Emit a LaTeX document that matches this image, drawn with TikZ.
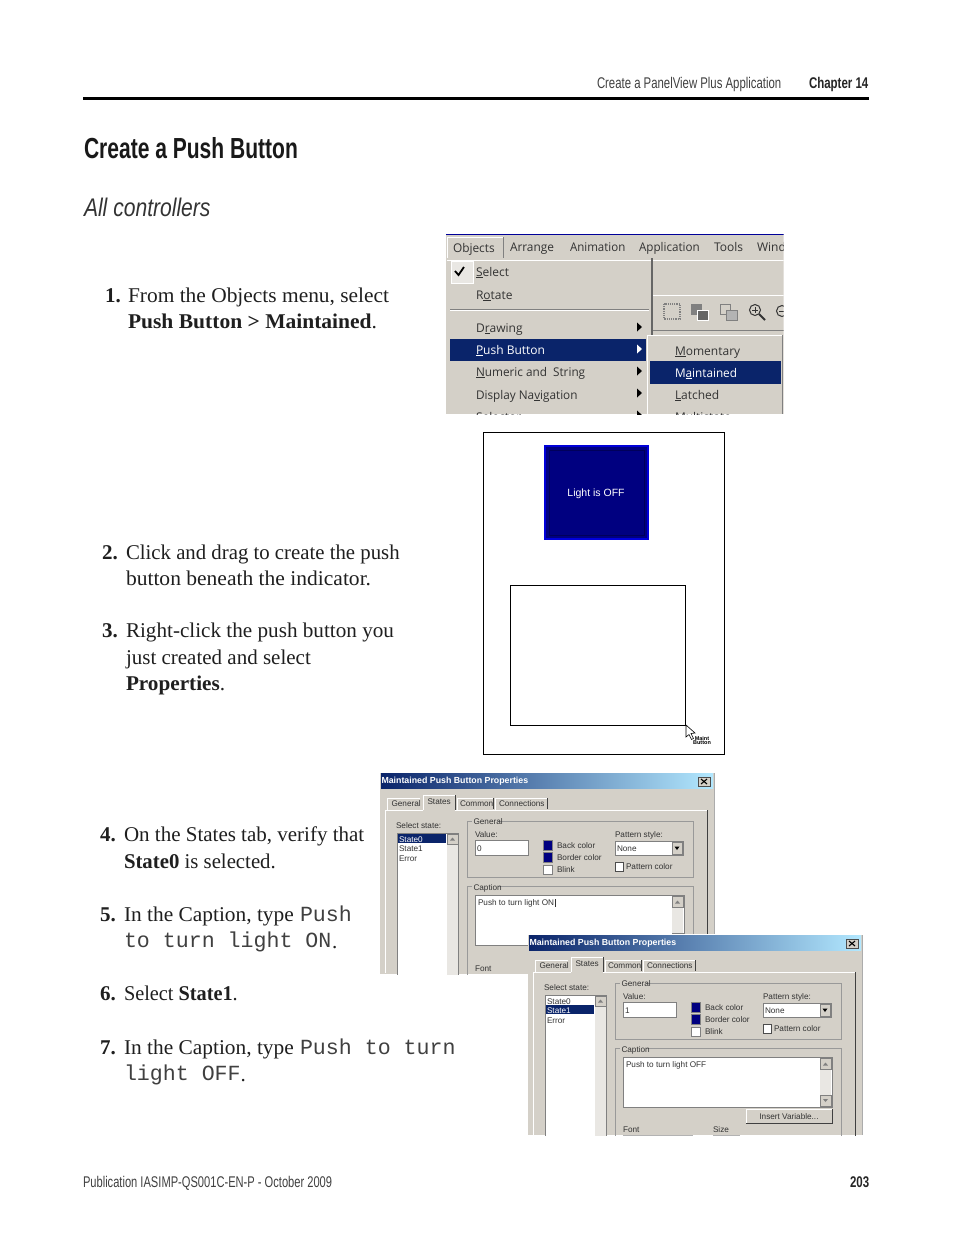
\documentclass[tikz,border=0pt]{standalone}
\usepackage{fontspec}
\setmainfont{Liberation Serif}
\newfontfamily\cond[FakeStretch=0.78]{Liberation Sans}
\newfontfamily\mnu{Open Sans}
\newfontfamily\dlg{Liberation Sans}
\newfontfamily\mon{Liberation Mono}
\definecolor{wing}{HTML}{D4D0C8}
\definecolor{sel}{HTML}{0A246A}
\definecolor{swat}{HTML}{000080}
\definecolor{dk}{HTML}{404040}
\definecolor{md}{HTML}{808080}
\definecolor{dith}{HTML}{E9E7E3}
\definecolor{txt}{HTML}{333333}
\tikzset{
 t/.style={anchor=west,inner sep=0pt,outer sep=0pt},
 body/.style={t,font=\fontsize{21}{21}\selectfont,text=black!88,text height=14pt,text depth=5pt,yshift=-2.5pt},
 mono/.style={t,font=\mon\fontsize{21.6}{21.6}\selectfont,text=black!75,text height=12pt,text depth=4pt,yshift=-2pt},
 mi/.style={t,font=\mnu\fontsize{12}{12}\selectfont,text=black!80,text height=9pt,text depth=3pt,yshift=-1pt},
 di/.style={t,font=\dlg\fontsize{8.2}{8.2}\selectfont,text=txt,text height=6.5pt,text depth=2pt,yshift=-.75pt},
 sunk/.style={fill=white,draw=md,line width=.8pt},
 btn/.style={fill=wing,draw=md,line width=.7pt},
 grp/.style={draw=md!80,line width=.8pt},
}
\newcommand{\U}[1]{\underline{#1}}
\newcommand{\sx}[2]{\scalebox{#1}[1]{#2}}
\newcommand{\dialogbox}[9]{%
\begin{scope}[shift={(#1,#2)}]
\begin{scope}
\clip (-1,-1) rectangle (334.5,#3);
\fill[wing] (0,0) rectangle (334,#3);
\draw[white,line width=.8pt] (0,-.5) -- (334,-.5);
\draw[md,line width=.8pt] (334,0) -- (334,#3);
\shade[left color=sel,right color=blue!30!cyan!30] (1,0) rectangle (333,15);
\node[t,font=\dlg\bfseries\fontsize{8.8}{8.8}\selectfont,text=white,text height=6.5pt,text depth=2pt] at (1.5,8.5) {Maintained Push Button Properties};
\draw[fill=wing,draw=black!70,line width=.6pt] (318,4) rectangle (330,13);
\draw[line width=1.1pt] (321,6) -- (327,11) (327,6) -- (321,11);
% tabs
\draw[white,line width=.8pt] (5,200) -- (5,37) -- (43,37) (75,37) -- (327,37);
\draw[dk,line width=.9pt] (327,37) -- (327,220);
\draw[white,line width=.8pt] (7,37) -- (7,25) -- (40,25);
\draw[white,line width=.8pt] (43,37) -- (43,22) -- (75,22);
\draw[dk,line width=.8pt] (75,22) -- (75,37);
\draw[white,line width=.8pt] (77,37) -- (77,25) -- (113,25);
\draw[dk,line width=.8pt] (113,25) -- (113,36);
\draw[white,line width=.8pt] (115,37) -- (115,25) -- (167,25);
\draw[dk,line width=.8pt] (167,25) -- (167,36);
\node[di] at (11.5,30.5) {General};
\node[di] at (47.5,28) {States};
\node[di] at (80,30.5) {Common};
\node[di] at (119,30.5) {Connections};
% state list
\node[di] at (16,52) {Select state:};
\draw[sunk] (17,60) rectangle (78,240);
\fill[dith] (67,61) rectangle (78,240);
\fill[sel] (18,#6) rectangle (66,#6+9);
\draw[btn] (67,61) rectangle (78,71);
\fill[md] (70,67.5) -- (75,67.5) -- (72.5,64.5) -- cycle;
\node[di,text=#7] at (19,66) {State0};
\node[di,text=#8] at (19,75.5) {State1};
\node[di] at (19,85) {Error};
% general group
\draw[grp] (87,48) rectangle (313,104);
\fill[wing] (92,44) rectangle (118,52);
\node[di] at (93.5,48) {General};
\node[di] at (95,61) {Value:};
\draw[sunk] (95,67) rectangle (148,82);
\node[di] at (97,75) {#4};
\draw[fill=swat,draw=md,line width=.5pt] (163,67) rectangle (172,77);
\draw[fill=swat,draw=md,line width=.5pt] (163,79) rectangle (172,89);
\draw[fill=white,draw=md,line width=.5pt] (163,92) rectangle (172,101);
\node[di] at (177,72) {Back color};
\node[di] at (177,84) {Border color};
\node[di] at (177,96.5) {Blink};
\node[di] at (235,61) {Pattern style:};
\draw[sunk] (235,68) rectangle (303,82);
\node[di] at (237,75) {None};
\draw[btn] (292,69) rectangle (302,81);
\fill[black] (294.5,73.5) -- (299.5,73.5) -- (297,77) -- cycle;
\draw[fill=white,draw=black!70,line width=.6pt] (235,89) rectangle (243,98);
\node[di] at (246,93.5) {Pattern color};
% caption group
\draw[grp] (87,113) rectangle (313,260);
\fill[wing] (92,109) rectangle (118,117);
\node[di] at (93.5,114) {Caption};
\draw[sunk] (95,122) rectangle (304,172);
\node[di] at (98,129) {#5};
\fill[dith] (292,123) rectangle (303,171);
\draw[btn] (292,123) rectangle (303,134);
\fill[md] (295,130.5) -- (300,130.5) -- (297.5,127.5) -- cycle;
\draw[btn] (292,160) rectangle (303,171);
\fill[md] (295,164) -- (300,164) -- (297.5,167) -- cycle;
#9
\end{scope}
\end{scope}}
\begin{document}
\begin{tikzpicture}[x=1pt,y=-1pt]
\useasboundingbox (0,0) rectangle (954,1235);
\fill[white] (0,0) rectangle (954,1235);
% header
\node[t,font=\cond\fontsize{15.5}{15.5}\selectfont,text=black!75,text height=11pt,text depth=3pt] (hdr) at (597,84) {\sx{.94}{Create a PanelView Plus Application}};
\node[t,font=\cond\bfseries\fontsize{15.5}{15.5}\selectfont,text=black!85,text height=11pt,text depth=3pt] (chap) at (809,84) {\sx{.95}{Chapter 14}};
\draw[black,line width=3pt] (83,98) -- (869,98);
\node[t,font=\cond\bfseries\fontsize{29}{29}\selectfont,text=black!90] (title) at (84,148.5) {\sx{.93}{Create a Push Button}};
\node[t,font=\cond\itshape\fontsize{25.5}{25.5}\selectfont,text=black!80] (sub) at (84,207.5) {\sx{1.06}{All controllers}};
% steps
\node[body] (n1) at (105,295) {\bfseries 1.};
\node[body] (s1a) at (128,295) {\sx{1.02}{From the Objects menu, select}};
\node[body] (s1b) at (128,321) {\sx{1.025}{\bfseries Push Button > Maintained\mdseries.}};
\node[body] (n2) at (102,552) {\bfseries 2.};
\node[body] (s2a) at (126,552) {\sx{.99}{Click and drag to create the push}};
\node[body] (s2b) at (126,578) {\sx{1.025}{button beneath the indicator.}};
\node[body] (n3) at (102,630) {\bfseries 3.};
\node[body] (s3a) at (126,630) {\sx{1.0075}{Right-click the push button you}};
\node[body] (s3b) at (126,657) {just created and select};
\node[body] (s3c) at (126,683) {\sx{1.01}{\bfseries Properties\mdseries.}};
\node[body] (n4) at (100,834) {\bfseries 4.};
\node[body] (s4a) at (124,834) {On the States tab, verify that};
\node[body] (s4b) at (124,861) {\sx{.99}{\bfseries State0 \mdseries is selected.}};
\node[body] (n5) at (100,914) {\bfseries 5.};
\node[body] (s5a) at (124,914) {\sx{1.018}{In the Caption, type}};
\node[mono] (s5m) at (300,915) {Push};
\node[mono] (s5b) at (124,941) {to turn light ON};
\node[body] (s5c) at (332,941) {.};
\node[body] (n6) at (100,993) {\bfseries 6.};
\node[body] (s6) at (124,993) {\sx{.966}{Select \bfseries State1\mdseries.}};
\node[body] (n7) at (100,1047) {\bfseries 7.};
\node[body] (s7a) at (124,1047) {\sx{1.018}{In the Caption, type}};
\node[mono] (s7m) at (300,1048) {Push to turn};
\node[mono] (s7b) at (124,1074) {light OFF};
\node[body] (s7c) at (240.5,1074) {.};
% footer
\node[t,font=\cond\fontsize{15.5}{15.5}\selectfont,text=black!75,text height=11pt,text depth=3pt] (foot) at (83,1183) {\sx{.92}{Publication IASIMP-QS001C-EN-P - October 2009}};
\node[t,font=\cond\bfseries\fontsize{15.5}{15.5}\selectfont,text=black!85,text height=11pt,text depth=3pt] (pg) at (850,1183) {\sx{.95}{203}};
% ---- menu screenshot
\begin{scope}
\clip (446,234) rectangle (783.5,414);
\fill[wing] (446,234) rectangle (784,414);
\draw[blue!60!black,line width=.8pt] (446,234.5) -- (784,234.5);
\draw[white,line width=.8pt] (447,258) -- (447,237) -- (503,237);
\draw[md,line width=.8pt] (503,237) -- (503,258);
\node[mi] (mObj) at (453,248) {\sx{.99}{Objects}};
\node[mi] (mArr) at (510,247) {\sx{.99}{Arrange}};
\node[mi] (mAni) at (570,247) {\sx{.96}{Animation}};
\node[mi] (mApp) at (639,247) {\sx{.97}{Application}};
\node[mi] (mToo) at (714,247) {Tools};
\node[mi] (mWin) at (757,247) {Window};
\draw[white,line width=.8pt] (447,260) -- (651,260);
\draw[dk!80,line width=1.2pt] (652,258) -- (652,335);
\draw[white,line width=.8pt] (653,260) -- (784,260);
\draw[white,line width=.8pt] (653,295) -- (784,295);
\draw[md,line width=.8pt] (653,330) -- (784,330);
% toolbar icons
\draw[md,line width=1.2pt,densely dotted] (664,304) rectangle (680,319);
\fill[md] (691,304) rectangle (702,315); \draw[white,fill=md!80!black] (697,310) rectangle (708,320);
\draw[md,fill=wing,line width=1pt] (720,304) rectangle (730,314); \draw[md,fill=md!60,line width=1pt] (726,310) rectangle (737,320);
\draw[black!80,line width=1pt] (755,310) circle (5.5);
\draw[black!80,line width=1pt] (752,310) -- (758,310) (755,307) -- (755,313);
\draw[black!80,line width=1.8pt] (759,314) -- (765,320);
\draw[black!80,line width=1pt] (782,311) circle (5.5);
\draw[black!80,line width=1pt] (779,311) -- (784,311);
% check box
\draw[fill=dith,draw=white,line width=.8pt] (451,261) rectangle (473,283);
\draw[black,line width=1.8pt] (455,271) -- (458.5,275) -- (464,267);
\node[mi] (mSel) at (476,272) {\U{S}elect};
\node[mi] (mRot) at (476,295) {R\U{o}tate};
\draw[md,line width=.7pt] (450,309.5) -- (649,309.5);
\draw[white,line width=.7pt] (450,310.5) -- (649,310.5);
\node[mi] (mDra) at (476,328) {D\U{r}awing};
\fill[sel] (450,339) rectangle (646,361);
\node[mi,text=white] (mPus) at (476,350) {\U{P}ush Button};
\node[mi] (mNum) at (476,372) {\sx{.98}{\U{N}umeric and \ String}};
\node[mi] (mDis) at (476,395) {\sx{.98}{Display Na\U{v}igation}};
\node[mi] (mInd) at (476,417) {Selector};
\foreach \yy/\cc in {327/black,349/white,371/black,393/black,415/black}
  \fill[\cc] (637,\yy-4.5) -- (642,\yy) -- (637,\yy+4.5) -- cycle;
% submenu
\fill[wing] (647,335) rectangle (783,414);
\draw[white,line width=.8pt] (647.5,414) -- (647.5,335.5) -- (782,335.5);
\draw[md,line width=1pt] (782,335) -- (782,414);
\fill[sel] (650,361) rectangle (781,384);
\node[mi] (mMom) at (675,351) {\U{M}omentary};
\node[mi,text=white] (mMai) at (675,373) {\sx{.98}{M\U{a}intained}};
\node[mi] (mLat) at (675,395) {\U{L}atched};
\node[mi] (mMul) at (675,417) {Multistate};
\end{scope}
% ---- drawing area
\draw[black,line width=.9pt] (483.5,432.5) rectangle (724.5,754.5);
\draw[fill=swat,draw=blue!85!black,line width=1.8pt] (545,446) rectangle (648,539);
\draw[draw=swat!70!black,line width=1pt] (549,450) rectangle (644,535);
\node[font=\dlg\fontsize{10.5}{10.5}\selectfont,text=white,inner sep=0pt,text height=7.5pt,text depth=2pt] (lt) at (596,493.5) {Light is OFF};
\draw[black,line width=.9pt] (510.5,585.5) rectangle (685.5,725.5);
\draw[fill=white,draw=black,line width=.6pt] (686,725) -- (686,737) -- (689,734.5) -- (691.5,739.5) -- (693.5,738.5) -- (691,733.5) -- (695,733) -- cycle;
\node[font=\dlg\bfseries\fontsize{5.5}{5.5}\selectfont,align=center,inner sep=0pt] (mb) at (702,741) {Maint\\[-1.5pt]Button};
% ---- dialogs
\dialogbox{380}{773}{201}{0}{Push to turn light ON\,\rule[-1.5pt]{.5pt}{8pt}}{61}{white}{txt}{\node[di] at (95,195) {Font};}
\dialogbox{528}{935}{200}{1}{Push to turn light OFF}{70}{txt}{white}{%
\draw[btn,fill=wing] (218,174) rectangle (304,188);
\draw[white,line width=.7pt] (218,188) -- (218,174) -- (304,174);
\draw[dk,line width=.9pt] (218,188) -- (304,188) -- (304,174);
\node[di,anchor=center] at (261,181) {Insert Variable...};
\node[di] at (95,194) {Font};
\node[di] at (185,194) {Size};
\draw[md!60,line width=1pt] (95,200) -- (165,200) (185,200) -- (212,200);
}
\end{tikzpicture}
\end{document}
